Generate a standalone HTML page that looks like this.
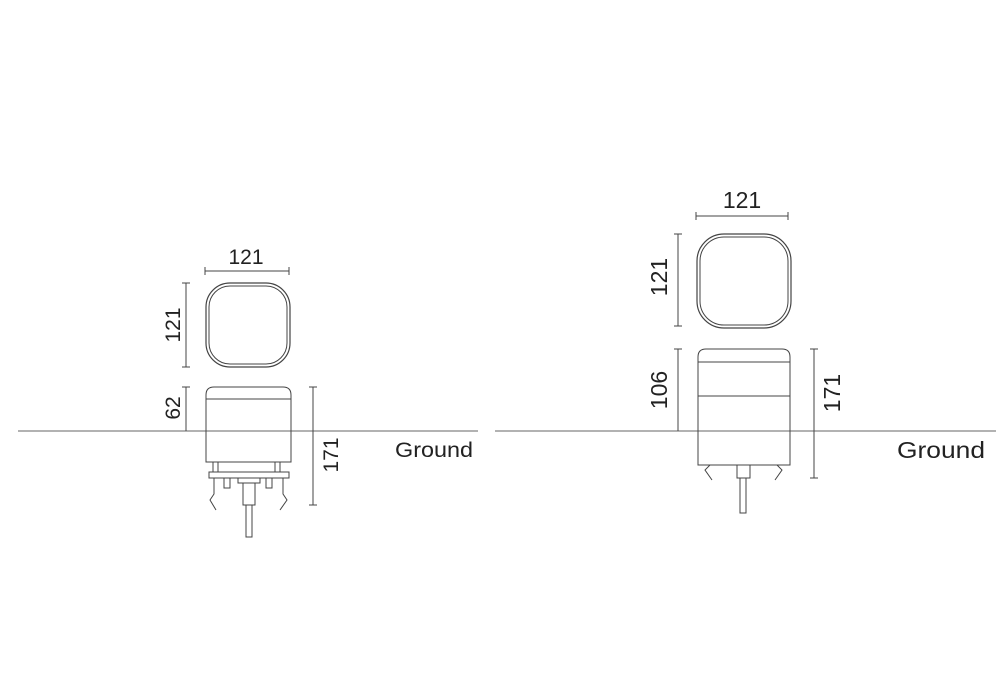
<!DOCTYPE html>
<html><head><style>html,body{margin:0;padding:0;background:#fff}svg{display:block}text{font-family:"Liberation Sans",sans-serif;fill:#222}</style></head>
<body>
<svg width="1000" height="700" viewBox="0 0 1000 700" xmlns="http://www.w3.org/2000/svg">
<g stroke="#444" stroke-width="1" fill="none">
<line x1="18" y1="431" x2="478" y2="431" stroke="#666"/>
<line x1="495" y1="431" x2="996" y2="431" stroke="#666"/>
<line x1="205" y1="271" x2="289" y2="271"/><line x1="205" y1="267" x2="205" y2="275"/><line x1="289" y1="267" x2="289" y2="275"/>
<rect x="206" y="283" width="84" height="84" rx="24" stroke-width="1.2"/>
<rect x="209" y="286" width="78" height="78" rx="21" stroke-width="1"/>
<line x1="186" y1="283" x2="186" y2="367"/><line x1="182" y1="283" x2="190" y2="283"/><line x1="182" y1="367" x2="190" y2="367"/>
<line x1="186" y1="387" x2="186" y2="431"/><line x1="182" y1="387" x2="190" y2="387"/>
<line x1="313" y1="387" x2="313" y2="505"/><line x1="309" y1="387" x2="317" y2="387"/><line x1="309" y1="505" x2="317" y2="505"/>
<path d="M206 462 V395 Q206 387 214 387 H283 Q291 387 291 395 V462 Z"/>
<line x1="206" y1="399" x2="291" y2="399"/>
<line x1="213" y1="462" x2="213" y2="472"/><line x1="218" y1="462" x2="218" y2="472"/>
<line x1="275" y1="462" x2="275" y2="472"/><line x1="280" y1="462" x2="280" y2="472"/>
<rect x="209" y="472" width="80" height="6"/>
<path d="M214 478 V494 L210 500 L216 510"/><path d="M283 478 V494 L287 500 L280 510"/>
<rect x="224" y="478" width="6" height="10"/><rect x="266" y="478" width="6" height="10"/>
<rect x="238" y="478" width="22" height="5"/>
<rect x="243" y="483" width="12" height="22"/>
<rect x="246" y="505" width="6" height="32"/>
<line x1="696" y1="216" x2="788" y2="216"/><line x1="696" y1="212" x2="696" y2="220"/><line x1="788" y1="212" x2="788" y2="220"/>
<rect x="697" y="234" width="94" height="94" rx="27" stroke-width="1.2"/>
<rect x="700" y="237" width="88" height="88" rx="24"/>
<line x1="678" y1="234" x2="678" y2="326"/><line x1="674" y1="234" x2="682" y2="234"/><line x1="674" y1="326" x2="682" y2="326"/>
<line x1="678" y1="349" x2="678" y2="431"/><line x1="674" y1="349" x2="682" y2="349"/>
<line x1="814" y1="349" x2="814" y2="478"/><line x1="810" y1="349" x2="818" y2="349"/><line x1="810" y1="478" x2="818" y2="478"/>
<path d="M698 465 V357 Q698 349 706 349 H782 Q790 349 790 357 V465 Z"/>
<line x1="698" y1="362" x2="790" y2="362"/>
<line x1="698" y1="396" x2="790" y2="396"/>
<path d="M710 465 L705 470 L712 480"/><path d="M777 465 L782 470 L775 480"/>
<rect x="737" y="465" width="13" height="13"/>
<rect x="740" y="478" width="6" height="35"/>
</g>
<text x="246" y="264" font-size="21" text-anchor="middle">121</text>
<text transform="translate(180,325) rotate(-90)" font-size="21" text-anchor="middle">121</text>
<text transform="translate(180,408) rotate(-90)" font-size="21" text-anchor="middle">62</text>
<text transform="translate(338,455) rotate(-90)" font-size="21" text-anchor="middle">171</text>
<text x="395" y="457" font-size="21" textLength="78" lengthAdjust="spacingAndGlyphs">Ground</text>
<text x="742" y="208" font-size="23" text-anchor="middle">121</text>
<text transform="translate(667,277) rotate(-90)" font-size="23" text-anchor="middle">121</text>
<text transform="translate(667,390) rotate(-90)" font-size="23" text-anchor="middle">106</text>
<text transform="translate(840,393) rotate(-90)" font-size="23" text-anchor="middle">171</text>
<text x="897" y="458" font-size="23" textLength="88" lengthAdjust="spacingAndGlyphs">Ground</text>
</svg>
</body></html>
